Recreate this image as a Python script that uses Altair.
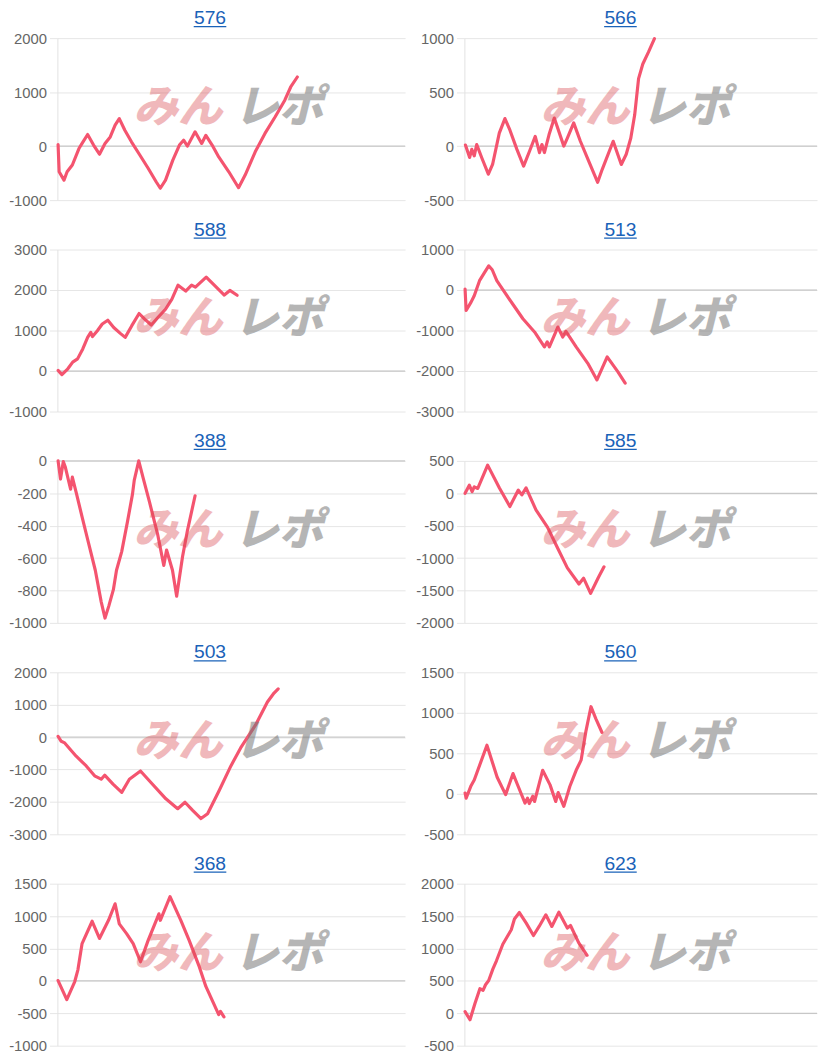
import altair as alt
import pandas as pd

# ---------------- data (x = position along the session, 0-100 of the axis; y = difference) -------------
titles = ["576", "566", "588", "513", "388", "585", "503", "560", "368", "623"]
y_domains = [(-1000, 2000), (-500, 1000), (-1000, 3000), (-3000, 1000), (-1000, 0),
             (-2000, 500), (-3000, 2000), (-500, 1500), (-1000, 1500), (-500, 2000)]

x_576 = [0.2, 0.5, 1.9, 2.8, 4.3, 6.2, 7.1, 8.7, 10.4, 12.1, 13.7, 15.2, 16.6, 17.8, 19.4, 21.3, 23.7,
         26.1, 28.4, 29.6, 31.1, 33.2, 35.1, 36.3, 37.4, 39.6, 41.5, 42.7, 44.5, 46.4, 49.3, 52.1, 54.0,
         56.9, 59.7, 62.6, 65.4, 67.1, 69.0]
y_576 = [30, -475, -630, -475, -350, -45, 50, 215, 20, -150, 50, 170, 390, 510, 295, 80, -165,
         -410, -660, -780, -630, -260, 20, 110, 0, 265, 50, 200, 20, -200, -475, -770, -535,
         -105, 235, 540, 850, 1095, 1280]

x_566 = [0.3, 1.5, 2.1, 2.8, 3.5, 4.9, 6.8, 8.0, 9.9, 11.5, 12.9, 14.9, 16.8, 18.5, 20.1, 21.3, 22.0,
         22.7, 24.0, 25.5, 28.2, 29.2, 31.0, 32.9, 35.2, 37.8, 39.1, 42.2, 44.5, 45.9, 47.2, 48.3, 49.4,
         50.6, 52.2, 53.9]
y_566 = [10, -105, -30, -90, 15, -105, -260, -170, 120, 255, 150, -30, -185, -45, 90, -60, 15,
         -60, 105, 260, 0, 75, 215, 45, -135, -335, -215, 45, -170, -75, 75, 290, 625,
         760, 870, 995]

x_588 = [0.2, 1.3, 3.0, 4.4, 5.8, 7.3, 8.7, 9.6, 10.1, 11.5, 12.9, 14.5, 16.2, 18.1, 19.5, 21.4, 23.5,
         25.1, 27.0, 28.9, 31.1, 32.9, 34.7, 36.9, 38.6, 39.7, 42.8, 44.9, 48.0, 49.6, 51.7]
y_588 = [15, -90, 55, 220, 300, 545, 830, 955, 850, 995, 1160, 1255, 1075, 930, 830, 1120, 1420,
         1280, 1135, 1320, 1525, 1770, 2120, 1975, 2120, 2070, 2320, 2140, 1875, 1990, 1870]

x_513 = [0.2, 0.5, 1.9, 2.8, 4.3, 5.7, 6.9, 7.9, 9.2, 11.4, 13.7, 16.6, 19.9, 22.7, 23.5, 24.1, 26.5,
         27.9, 28.8, 31.7, 35.0, 37.6, 40.5, 43.5, 45.6]
y_513 = [25, -505, -300, -140, 230, 430, 595, 500, 230, -55, -345, -710, -1035, -1405, -1280, -1405, -915,
         -1160, -1020, -1405, -1810, -2220, -1650, -2015, -2300]

x_388 = [0.2, 0.9, 1.7, 2.3, 3.8, 4.3, 5.4, 7.1, 9.0, 10.9, 12.6, 13.7, 14.8, 16.1, 17.0, 18.5, 20.2,
         21.6, 22.1, 23.4, 24.6, 26.5, 28.8, 30.6, 31.4, 33.1, 34.3, 36.0, 37.4, 39.6]
y_388 = [0, -112, -4, -40, -175, -100, -195, -345, -510, -675, -870, -970, -895, -795, -675, -560, -370,
         -205, -120, 0, -100, -255, -450, -645, -550, -675, -835, -590, -430, -215]

x_585 = [0.2, 1.4, 2.2, 2.8, 3.8, 6.6, 9.9, 12.9, 15.3, 16.3, 17.5, 20.3, 23.6, 26.4, 29.2, 32.5, 33.8,
         35.8, 38.0, 39.6]
y_585 = [0, 125, 25, 100, 75, 435, 85, -205, 50, -25, 85, -255, -525, -840, -1150, -1400, -1310,
         -1545, -1300, -1135]

x_503 = [0.2, 1.1, 2.1, 5.4, 8.3, 10.7, 12.6, 13.6, 16.0, 18.5, 20.7, 23.9, 26.9, 31.2, 34.6, 36.7, 38.9,
         41.3, 43.2, 46.5, 49.9, 52.7, 57.0, 60.4, 62.3, 63.5]
y_503 = [20, -130, -180, -590, -890, -1195, -1300, -1175, -1450, -1705, -1300, -1045, -1400, -1905, -2210,
         -2010, -2260, -2515, -2365, -1655, -890, -335, 375, 1085, 1360, 1490]

x_560 = [0.2, 0.5, 1.9, 2.8, 6.4, 9.3, 11.7, 13.8, 14.9, 17.2, 17.9, 18.4, 19.4, 19.9, 22.2, 24.3, 25.9,
         26.6, 28.2, 29.9, 31.7, 33.1, 34.5, 35.9, 37.3, 39.0]
y_560 = [10, -55, 100, 170, 600, 205, -10, 250, 130, -115, -55, -120, -30, -95, 290, 110, -95,
         15, -155, 90, 290, 415, 780, 1075, 925, 760]

x_368 = [0.2, 2.7, 5.0, 5.9, 7.1, 10.0, 12.1, 14.7, 16.6, 17.8, 19.9, 21.8, 23.9, 26.1, 29.2, 29.6, 32.4,
         35.5, 37.9, 40.8, 42.7, 46.4, 46.9, 47.9]
y_368 = [5, -290, -10, 170, 575, 920, 655, 935, 1190, 880, 730, 575, 295, 625, 1035, 935, 1300,
         935, 625, 220, -85, -520, -470, -555]

x_623 = [0.2, 1.6, 3.0, 4.4, 5.3, 6.0, 6.9, 8.1, 9.1, 10.9, 13.3, 14.2, 15.6, 17.5, 19.6, 21.2, 23.1,
         24.8, 26.8, 29.2, 30.1, 32.4, 34.8]
y_623 = [25, -100, 150, 380, 355, 440, 505, 685, 810, 1065, 1290, 1455, 1555, 1395, 1200, 1340, 1520,
         1340, 1560, 1315, 1355, 1090, 895]

series_x = [x_576, x_566, x_588, x_513, x_388, x_585, x_503, x_560, x_368, x_623]
series_y = [y_576, y_566, y_588, y_513, y_388, y_585, y_503, y_560, y_368, y_623]

wm_left = "みん"
wm_right = "レポ"

# ---------------- style ----------------
LINE = "#f4546f"
LINK = "#1a62b8"
FONT = "Liberation Sans"
W_LEFT, W_RIGHT = 352, 357
H = 164      # plot area height
T = 29       # title band above plot area (inside the view)
D = 14       # title baseline distance above plot area


def panel(title, xs, ys, dom, width, title_cx):
    df = pd.DataFrame({"x": xs, "y": ys})
    y_enc = alt.Y(
        "y:Q",
        scale=alt.Scale(domain=list(dom), nice=False, zero=False, range=[H + T, T]),
        axis=alt.Axis(title=None, tickCount=4, grid=True, gridColor="#e6e6e6",
                      domainColor="#e2e2e2", tickColor="#e6e6e6", tickSize=8,
                      labelPadding=3, labelColor="#666666", labelFontSize=15,
                      labelFont=FONT, labelExpr="'' + datum.value"),
    )
    x_enc = alt.X("x:Q", scale=alt.Scale(domain=[0, 100], nice=False, zero=False), axis=None)

    zero = alt.Chart(pd.DataFrame({"y": [0]})).mark_rule(
        color="#bdbdbd", strokeWidth=1).encode(y=y_enc)
    line = alt.Chart(df).mark_line(
        color=LINE, strokeWidth=3.2, strokeJoin="round", strokeCap="round"
    ).encode(x=x_enc, y=y_enc, order="x:Q")

    one = pd.DataFrame({"t": [title]})
    ttl = alt.Chart(one).mark_text(
        font=FONT, fontSize=19.5, color=LINK, align="center", baseline="alphabetic"
    ).encode(x=alt.value(title_cx), y=alt.value(T - D), text="t:N")
    uline = alt.Chart(one).mark_rule(color=LINK, strokeWidth=1.3).encode(
        x=alt.value(title_cx - 16.5), x2=alt.value(title_cx + 16.5), y=alt.value(T - D + 2.4))

    wm1 = alt.Chart(pd.DataFrame({"t": [wm_left]})).mark_text(
        font="Noto Sans CJK JP", fontSize=45, fontWeight=900, fontStyle="italic",
        color="#d9474f", opacity=0.38, align="center", baseline="middle"
    ).encode(x=alt.value(122), y=alt.value(T + 71), text="t:N")
    wm2 = alt.Chart(pd.DataFrame({"t": [wm_right]})).mark_text(
        font="Noto Sans CJK JP", fontSize=45, fontWeight=900, fontStyle="italic",
        color="#7a7a7a", opacity=0.55, align="center", baseline="middle"
    ).encode(x=alt.value(224), y=alt.value(T + 71), text="t:N")

    return alt.layer(zero, line, wm1, wm2, ttl, uline).properties(width=width, height=H + T)


panels = []
for i in range(10):
    if i % 2 == 0:
        panels.append(panel(titles[i], series_x[i], series_y[i], y_domains[i], W_LEFT, 154.5))
    else:
        panels.append(panel(titles[i], series_x[i], series_y[i], y_domains[i], W_RIGHT, 158))

chart = alt.concat(*panels, columns=2, spacing={"row": 21, "column": 60}, bounds="flush").properties(
    padding={"top": -6, "left": 0, "right": 0, "bottom": 0}, background="white"
).configure_view(stroke=None)

chart.save("out.html", embed_options={"renderer": "svg", "actions": False})
